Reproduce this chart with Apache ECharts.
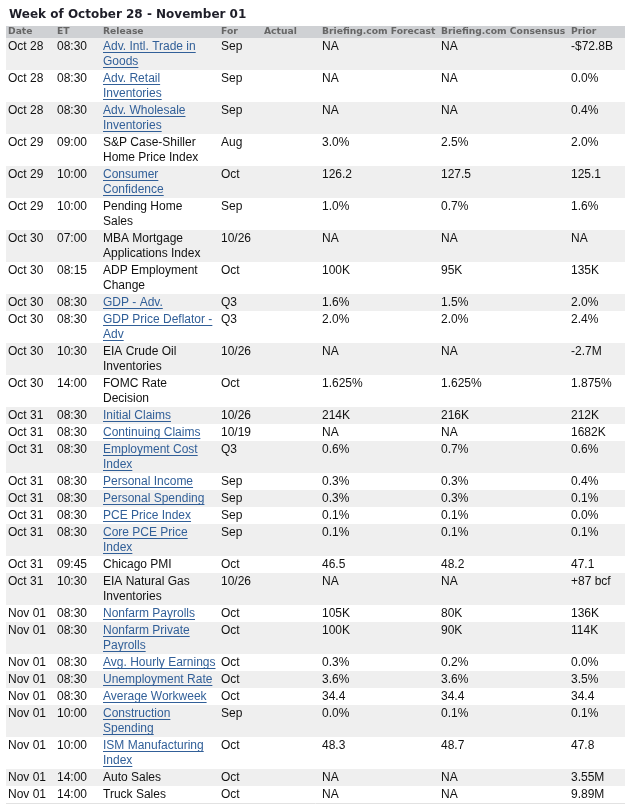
<!DOCTYPE html>
<html><head><meta charset="utf-8">
<script src="https://cdn.jsdelivr.net/npm/echarts@6/dist/echarts.min.js"></script>
<style>html,body{margin:0;padding:0;background:#fff}#c{width:625px;height:811px}</style>
</head><body><div id="c"></div>
<script>
const titleText = 'Week of October 28 - November 01';
const headers = ['Date','ET','Release','For','Actual','Briefing.com Forecast','Briefing.com Consensus','Prior'];
const dates = ['Oct 28','Oct 28','Oct 28','Oct 29','Oct 29','Oct 29','Oct 30','Oct 30','Oct 30','Oct 30','Oct 30','Oct 30','Oct 31','Oct 31','Oct 31','Oct 31','Oct 31','Oct 31','Oct 31','Oct 31','Oct 31','Nov 01','Nov 01','Nov 01','Nov 01','Nov 01','Nov 01','Nov 01','Nov 01','Nov 01'];
const times = ['08:30','08:30','08:30','09:00','10:00','10:00','07:00','08:15','08:30','08:30','10:30','14:00','08:30','08:30','08:30','08:30','08:30','08:30','08:30','09:45','10:30','08:30','08:30','08:30','08:30','08:30','10:00','10:00','14:00','14:00'];
const releases = ['Adv. Intl. Trade in\nGoods','Adv. Retail\nInventories','Adv. Wholesale\nInventories','S&P Case-Shiller\nHome Price Index','Consumer\nConfidence','Pending Home\nSales','MBA Mortgage\nApplications Index','ADP Employment\nChange','GDP - Adv.','GDP Price Deflator -\nAdv','EIA Crude Oil\nInventories','FOMC Rate\nDecision','Initial Claims','Continuing Claims','Employment Cost\nIndex','Personal Income','Personal Spending','PCE Price Index','Core PCE Price\nIndex','Chicago PMI','EIA Natural Gas\nInventories','Nonfarm Payrolls','Nonfarm Private\nPayrolls','Avg. Hourly Earnings','Unemployment Rate','Average Workweek','Construction\nSpending','ISM Manufacturing\nIndex','Auto Sales','Truck Sales'];
const isLink = [1,1,1,0,1,0,0,0,1,1,0,0,1,1,1,1,1,1,1,0,0,1,1,1,1,1,1,1,0,0];
const periods = ['Sep','Sep','Sep','Aug','Oct','Sep','10/26','Oct','Q3','Q3','10/26','Oct','10/26','10/19','Q3','Sep','Sep','Sep','Sep','Oct','10/26','Oct','Oct','Oct','Oct','Oct','Sep','Oct','Oct','Oct'];
const actuals = ['','','','','','','','','','','','','','','','','','','','','','','','','','','','','',''];
const forecasts = ['NA','NA','NA','3.0%','126.2','1.0%','NA','100K','1.6%','2.0%','NA','1.625%','214K','NA','0.6%','0.3%','0.3%','0.1%','0.1%','46.5','NA','105K','100K','0.3%','3.6%','34.4','0.0%','48.3','NA','NA'];
const consensus = ['NA','NA','NA','2.5%','127.5','0.7%','NA','95K','1.5%','2.0%','NA','1.625%','216K','NA','0.7%','0.3%','0.3%','0.1%','0.1%','48.2','NA','80K','90K','0.2%','3.6%','34.4','0.1%','48.7','NA','NA'];
const priors = ['-$72.8B','0.0%','0.4%','2.0%','125.1','1.6%','NA','135K','2.0%','2.4%','-2.7M','1.875%','212K','1682K','0.6%','0.4%','0.1%','0.0%','0.1%','47.1','+87 bcf','136K','114K','0.0%','3.5%','34.4','0.1%','47.8','3.55M','9.89M'];

// layout (code, not data)
const colX = [8, 57, 103, 221, 264, 322, 441, 571];
const LINE = 15, PAD = 1;
const bodyFont = '12px "Liberation Sans", Arial, sans-serif';
const headFont = 'bold 9.2px "DejaVu Sans", Verdana, sans-serif';
const linkColor = '#315f98';
const textColor = '#111';
const stripe = '#efefef';

const mctx = document.createElement('canvas').getContext('2d');
mctx.font = bodyFont;

let acc = 0;
const rows = releases.map((r, i) => {
  const n = r.split('\n').length;
  const h = 2 * PAD + LINE * n;
  const row = [i, acc, h];
  acc += h;
  return row;
});
const total = acc;
const tableTop = 38;

function renderItem(params, api) {
  const i = api.value(0), top = api.value(1), h = api.value(2);
  const children = [];
  const a = api.coord([6, top]), b = api.coord([625, top + h]);
  if (i % 2 === 0) {
    children.push({type:'rect', shape:{x:a[0], y:a[1], width:b[0]-a[0], height:b[1]-a[1]}, style:{fill:stripe}});
  }
  const cells = [dates[i], times[i], releases[i], periods[i], actuals[i], forecasts[i], consensus[i], priors[i]];
  cells.forEach((txt, c) => {
    if (!txt) return;
    const lines = txt.split('\n');
    lines.forEach((ln, k) => {
      const p = api.coord([colX[c], top + PAD + LINE * k + 7.2]);
      const link = (c === 2 && isLink[i]);
      children.push({type:'text', style:{text: ln, x: p[0], y: p[1], font: bodyFont, fill: link ? linkColor : textColor, align:'left', verticalAlign:'middle'}});
      if (link) {
        const w = mctx.measureText(ln).width;
        const u = api.coord([colX[c], top + PAD + LINE * k + 12.6]);
        const yy = Math.round(u[1]) + 0.5;
        children.push({type:'line', shape:{x1: p[0], y1: yy, x2: p[0] + w, y2: yy}, style:{stroke: linkColor, lineWidth: 1}});
      }
    });
  });
  if (i === releases.length - 1) {
    const e = api.coord([6, top + h]);
    const yy = Math.round(e[1]) + 0.5;
    children.push({type:'line', shape:{x1: e[0], y1: yy, x2: 625, y2: yy}, style:{stroke:'#e2e2e2', lineWidth: 1}});
  }
  return {type:'group', children};
}

const graphics = [
  {type:'text', x: 9, y: 14.6, style:{text: titleText, font:'bold 12px "DejaVu Sans", Verdana, sans-serif', fill:'#1e1e28', align:'left', verticalAlign:'middle'}},
  {type:'rect', shape:{x:6, y:26, width:619, height:12}, style:{fill:'#cfd1d4'}}
];
headers.forEach((h, c) => {
  graphics.push({type:'text', x: colX[c], y: 31.8, style:{text: h, font: headFont, fill:'#666', align:'left', verticalAlign:'middle'}});
});

const chart = echarts.init(document.getElementById('c'), null, {renderer:'canvas'});
chart.setOption({
  animation: false,
  backgroundColor: '#fff',
  graphic: graphics,
  grid: {left: 0, right: 0, top: tableTop, height: total},
  xAxis: {type:'value', min:0, max:625, show:false},
  yAxis: {type:'value', min:0, max: total, inverse: true, show:false},
  series: [{type:'custom', data: rows, encode:{x:0, y:1}, renderItem, clip:false, silent:true}]
});
</script>
</body></html>
